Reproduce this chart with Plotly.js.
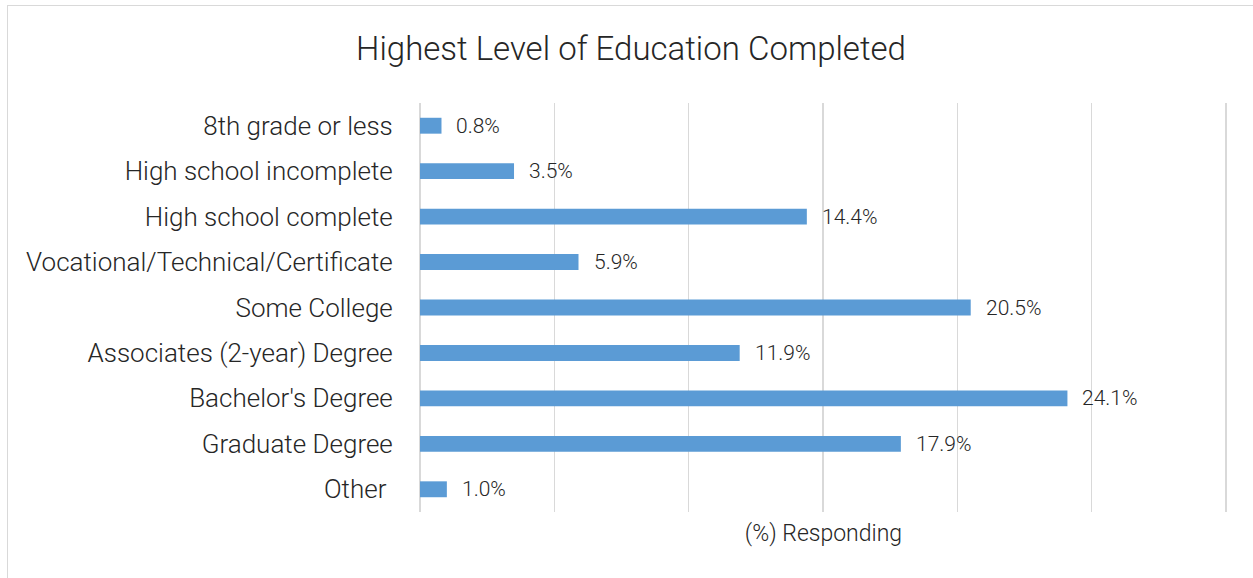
<!DOCTYPE html>
<html><head><meta charset="utf-8">
<script src="https://cdn.plot.ly/plotly-3.0.1.min.js"></script>
<style>
html,body{margin:0;padding:0;background:#fff;}
#chart{width:1253px;height:578px;}
#frame{position:absolute;left:7px;top:5px;width:1300px;height:600px;border-left:1.5px solid #d9d9d9;border-top:1.5px solid #d9d9d9;pointer-events:none;}
</style></head>
<body>
<div id="chart"></div>
<div id="frame"></div>
<script>
const categories = ["8th grade or less","High school incomplete","High school complete","Vocational/Technical/Certificate","Some College","Associates (2-year) Degree","Bachelor's Degree","Graduate Degree","Other\u00a0"];
const values = [0.8, 3.5, 14.4, 5.9, 20.5, 11.9, 24.1, 17.9, 1.0];
const labels = values.map(v => v.toFixed(1) + "%");

const FONT = "'Roboto Light', Roboto, 'Noto Sans', sans-serif";
const trace = {
  type: "bar", orientation: "h",
  x: values, y: categories,
  marker: {color: "#5b9bd5"},
  width: 0.35,
  hoverinfo: "skip"
};
const annotations = values.map((v, i) => ({
  x: v, y: categories[i], xref: "x", yref: "y",
  text: labels[i], showarrow: false, xanchor: "left", yanchor: "middle",
  xshift: 13, font: {family: FONT, size: 21, color: "#262626", weight: 300}
}));
const layout = {
  width: 1253, height: 578,
  margin: {l: 420, r: 26, t: 103, b: 66},
  paper_bgcolor: "#fff", plot_bgcolor: "#fff",
  font: {family: FONT, color: "#262626", weight: 300},
  title: {text: "Highest Level of Education Completed", font: {family: FONT, size: 33, color: "#262626", weight: 300},
    xref: "container", x: 631/1253, xanchor: "center", yref: "container", y: 1 - 48/578, yanchor: "middle"},
  xaxis: {range: [0, 30.04], dtick: 5, tick0: 0, showticklabels: false, showgrid: true, gridcolor: "#d9d9d9", gridwidth: 1.5,
    zeroline: true, zerolinecolor: "#d9d9d9", zerolinewidth: 1.5, showline: false, fixedrange: true,
    title: {text: "(%) Responding", font: {family: FONT, size: 23, color: "#262626", weight: 300}, standoff: 12}},
  yaxis: {autorange: "reversed", showgrid: false, zeroline: false, showline: false, ticks: "outside", ticklen: 21, tickcolor: "rgba(0,0,0,0)",
    tickfont: {family: FONT, size: 26, color: "#262626", weight: 300}, fixedrange: true},
  annotations: annotations,
  showlegend: false
};
Plotly.newPlot("chart", [trace], layout, {displayModeBar: false, staticPlot: true});
</script>
</body></html>
